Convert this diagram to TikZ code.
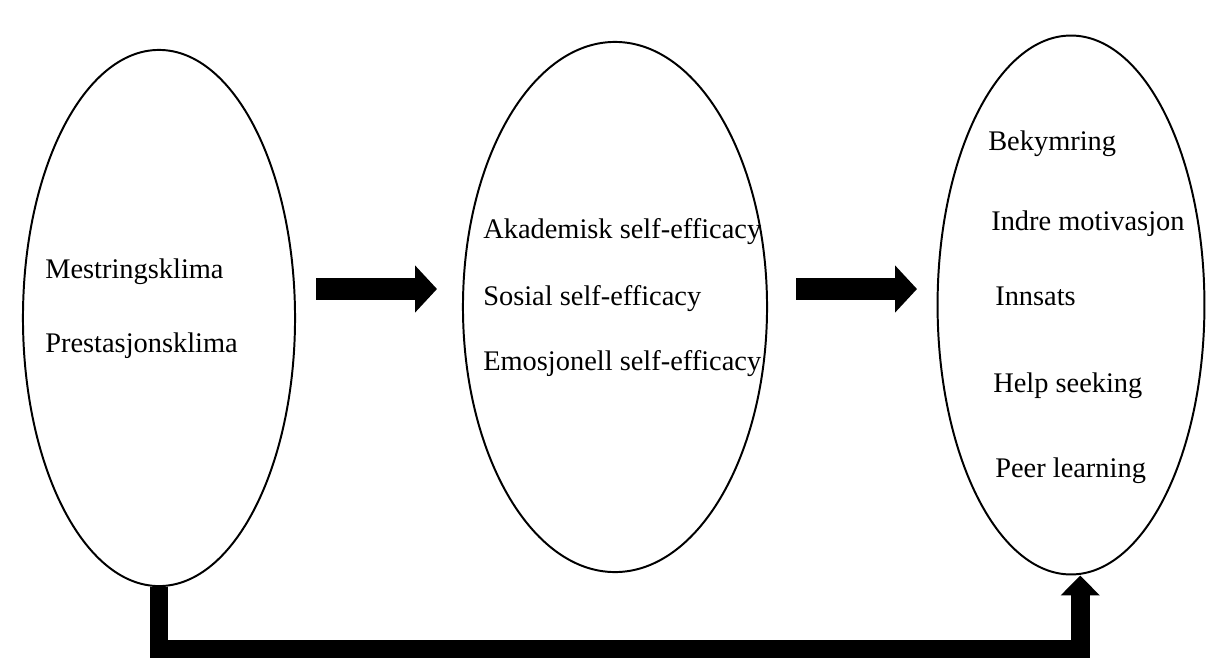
\documentclass[tikz,border=0pt]{standalone}
\usepackage{fontspec}
\setmainfont{Liberation Serif}
\usetikzlibrary{shapes.geometric,arrows.meta}

\tikzset{
  oval/.style={ellipse, draw, line width=1.4pt, inner sep=0pt},
  item/.style={anchor=base west, inner sep=0pt, font=\fontsize{20.2}{24}\selectfont},
  blockarrow/.style={line width=0.55cm, -{Triangle[length=0.55cm, width=1.15cm]}},
  linkarrow/.style={line width=0.47cm, -{Triangle[length=0.5cm, width=0.95cm]}}
}

\begin{document}
\begin{tikzpicture}[x=0.025cm, y=-0.025cm]
\useasboundingbox (0,0) rectangle (1208,657);
\clip (0,0) rectangle (1208,657);

% the three groups
\node[oval, minimum width=6.8cm, minimum height=13.4cm] (klima) at (159,318) {};
\node[oval, minimum width=7.6cm, minimum height=13.25cm] (efficacy) at (615,307) {};
\node[oval, minimum width=6.67cm, minimum height=13.47cm] (utfall) at (1071,305) {};

\node[item] (mestring) at (45,278) {Mestringsklima};
\node[item] (prestasjon) at (45,352) {Prestasjonsklima};

\node[item] (akademisk) at (483,238) {Akademisk self-efficacy};
\node[item] (sosial) at (483,305) {Sosial self-efficacy};
\node[item] (emosjonell) at (483,370) {Emosjonell self-efficacy};

\node[item] (bekymring) at (988,150) {Bekymring};
\node[item] (indre) at (991,230) {Indre motivasjon};
\node[item] (innsats) at (995,305) {Innsats};
\node[item] (help) at (993,392) {Help seeking};
\node[item] (peer) at (995,477) {Peer learning};

% block arrows
\coordinate (a1) at (316,289);
\coordinate (b1) at (437,289);
\coordinate (a2) at (796,289);
\coordinate (b2) at (917,289);
\draw[blockarrow] (a1) -- (b1);
\draw[blockarrow] (a2) -- (b2);

% bottom link
\draw[linkarrow] (klima.south) -- ++(0,62) -| ([xshift=0.23cm]utfall.south);
\end{tikzpicture}
\end{document}
